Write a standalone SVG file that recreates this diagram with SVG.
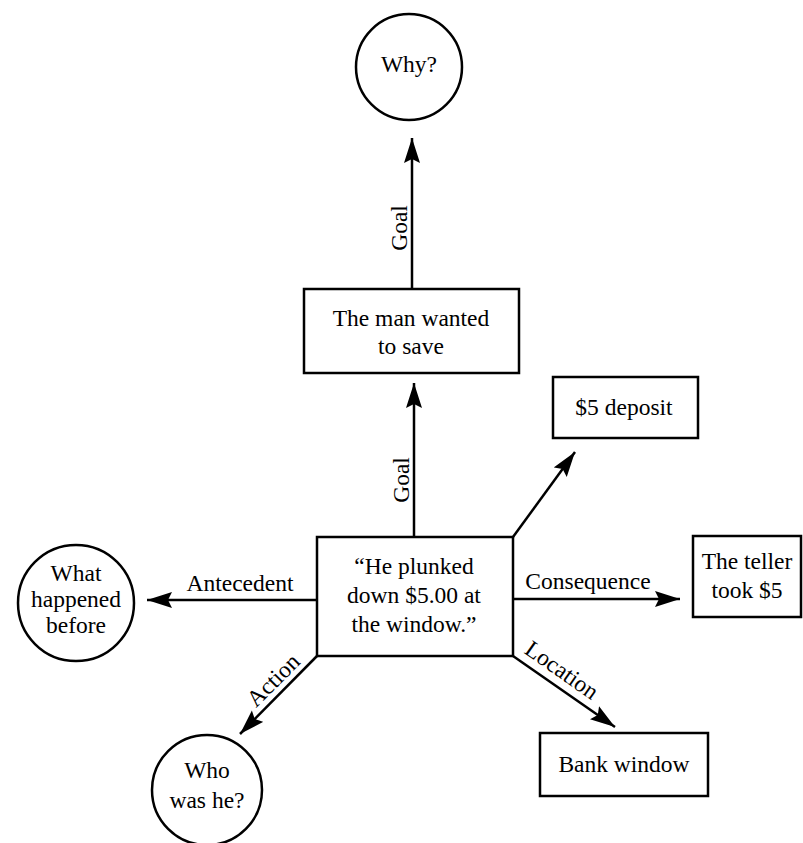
<svg xmlns="http://www.w3.org/2000/svg" width="803" height="843" viewBox="0 0 803 843">
<style>
.n{fill:none;stroke:#000;stroke-width:2.5}
.t{font-family:'Liberation Serif','DejaVu Serif','Times New Roman',serif;font-size:23.5px;fill:#000;text-anchor:middle}
.c{stroke:#000;stroke-width:2.5;fill:none;marker-end:url(#ah)}
</style>
<defs>
<marker id="ah" markerUnits="userSpaceOnUse" markerWidth="26" markerHeight="17" refX="25" refY="8" orient="auto" viewBox="0 0 26 17">
<path d="M0,0 L25,8 L0,16 L4,8 Z" fill="#000"/>
</marker>
</defs>
<rect width="803" height="843" fill="#fff"/>
<g id="connectors">
<line class="c" x1="412" y1="289" x2="412" y2="138"/>
<line class="c" x1="414" y1="537" x2="414" y2="383"/>
<line class="c" x1="513" y1="537" x2="575" y2="452"/>
<line class="c" x1="317" y1="600" x2="147" y2="600"/>
<line class="c" x1="513" y1="599" x2="680" y2="599"/>
<line class="c" x1="317" y1="656" x2="240" y2="734"/>
<line class="c" x1="513" y1="656" x2="615" y2="727"/>
<text class="t" font-family="Liberation Serif, serif" transform="translate(407,228) rotate(-90)">Goal</text>
<text class="t" font-family="Liberation Serif, serif" transform="translate(409,480) rotate(-90)">Goal</text>
<text class="t" font-family="Liberation Serif, serif" x="240" y="591">Antecedent</text>
<text class="t" font-family="Liberation Serif, serif" x="588" y="589">Consequence</text>
<text class="t" font-family="Liberation Serif, serif" transform="translate(273,680) rotate(-45)" y="8">Action</text>
<text class="t" font-family="Liberation Serif, serif" transform="translate(562,670) rotate(35)" y="8">Location</text>
</g>
<g id="why">
<circle class="n" cx="409" cy="67" r="53"/>
<text class="t" x="409" y="72">Why?</text>
</g>
<g id="man">
<rect class="n" x="304" y="289" width="215" height="84"/>
<text class="t" x="411" y="326">The man wanted</text>
<text class="t" x="411" y="354">to save</text>
</g>
<g id="deposit">
<rect class="n" x="553" y="377" width="145" height="61"/>
<text class="t" x="624" y="415">$5 deposit</text>
</g>
<g id="center">
<rect class="n" x="317" y="537" width="196" height="119"/>
<text class="t" x="414" y="574">“He plunked</text>
<text class="t" x="414" y="603">down $5.00 at</text>
<text class="t" x="414" y="632">the window.”</text>
</g>
<g id="before">
<circle class="n" cx="76" cy="603" r="58"/>
<text class="t" x="76" y="581">What</text>
<text class="t" x="76" y="607">happened</text>
<text class="t" x="76" y="633">before</text>
</g>
<g id="teller">
<rect class="n" x="693" y="536" width="108" height="81"/>
<text class="t" x="747" y="569">The teller</text>
<text class="t" x="747" y="598">took $5</text>
</g>
<g id="who">
<circle class="n" cx="207" cy="790" r="55"/>
<text class="t" x="207" y="778">Who</text>
<text class="t" x="207" y="808">was he?</text>
</g>
<g id="bank">
<rect class="n" x="540" y="733" width="168" height="63"/>
<text class="t" x="624" y="772">Bank window</text>
</g>
</svg>
